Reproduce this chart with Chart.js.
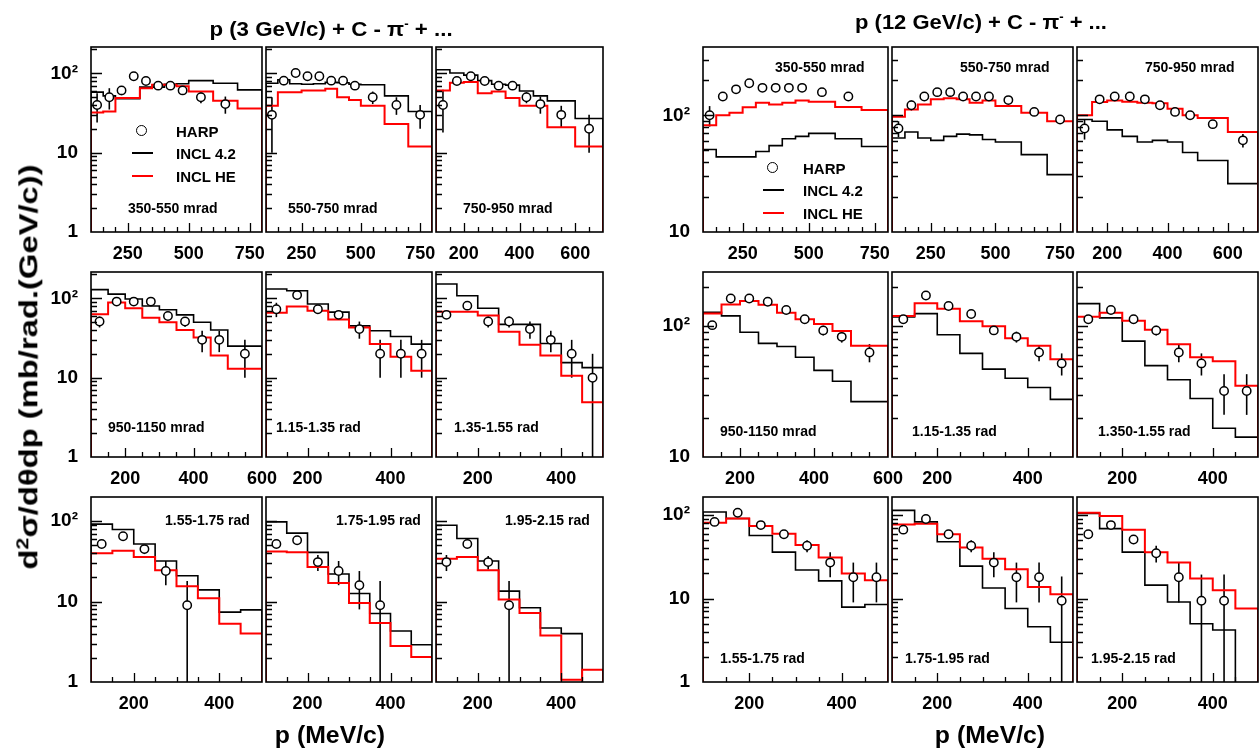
<!DOCTYPE html>
<html>
<head>
<meta charset="utf-8">
<script src="https://cdn.jsdelivr.net/npm/chart.js@4.4.1/dist/chart.umd.min.js"></script>
<style>
  body { margin: 0; background: #fff; }
  #wrap { position: relative; width: 1260px; height: 751px; overflow: hidden; font-family: "Liberation Sans", Arial, sans-serif; }
  canvas { position: absolute; }
  .t { position: absolute; white-space: nowrap; color: #000; font-weight: bold; line-height: 1; }
</style>
</head>
<body>
<div id="wrap"></div>
<script>
// ---- data ----
// bin edges (MeV/c) and HARP bin centres
const binEdges = [100, 150, 200, 250, 300, 350, 400, 450, 500, 600, 700, 800];
const pCentres = [125, 175, 225, 275, 325, 375, 425, 475, 550, 650, 750];

// x tick labels by upper end of range
const xLabels = { 800: [250, 500, 750], 700: [200, 400, 600], 600: [200, 400, 600], 500: [200, 400] };

// p (3 GeV/c) + C
const harp3_1 = [40, 50, 61, 92, 80, 70, 70, 61, 50, 41];
const err3_1 = [16, 15, 8, 5, 5, 4, 4, 5, 8, 10];
const incl3_1 = [58, 52, 48, 48, 67, 67, 73, 74, 81, 75, 62];
const he3_1 = [32, 33, 49, 49, 65, 72, 72, 69, 59, 45, 36];

const harp3_2 = [30, 81, 101, 92, 92, 81, 81, 70, 50, 40, 30];
const err3_2 = [20, 10, 5, 5, 5, 5, 5, 5, 9, 10, 10];
const incl3_2 = [75, 83, 74, 73, 74, 77, 76, 73, 72, 52, 33];
const he3_2 = [39, 58, 58, 61, 61, 64, 50, 46, 39, 23, 12];

const harp3_3 = [40, 80, 92, 80, 70, 70, 50, 41, 30, 20];
const err3_3 = [22, 6, 5, 5, 5, 5, 8, 10, 9, 10];
const incl3_3 = [111, 101, 95, 81, 73, 71, 60, 52, 45, 27];
const he3_3 = [61, 76, 78, 56, 59, 49, 39, 39, 21, 12];

const harp3_4 = [51, 91, 91, 91, 60, 51, 30, 30, 20];
const err3_4 = [8, 5, 5, 4, 5, 7, 9, 9, 10];
const incl3_4 = [129, 113, 98, 80, 72, 62, 50, 40, 25];
const he3_4 = [63, 89, 75, 57, 50, 40, 32, 19, 13];

const harp3_5 = [73, 110, 73, 62, 41, 20, 20, 20];
const err3_5 = [15, 5, 6, 5, 10, 10, 10, 10];
const incl3_5 = [131, 125, 85, 67, 45, 39, 33, 26.5];
const he3_5 = [66, 79, 70, 54, 43, 26.5, 18.4, 12.2];

const harp3_6 = [62, 81, 51, 51, 41, 30, 20, 10];
const err3_6 = [6, 6, 8, 8, 10, 9, 10, 10];
const incl3_6 = [152, 108, 75, 47, 47, 27, 15.5, 13.4];
const he3_6 = [68, 68, 61, 38, 26, 19, 10.6, 4.9];

const harp3_7 = [52, 65, 45, 24, 9];
const err3_7 = [5, 5, 6, 8, 9];
const incl3_7 = [92, 79, 52, 32, 21, 14, 7.4, 7.9];
const he3_7 = [40, 43, 36, 24.5, 15.5, 11, 5.3, 4];

const harp3_8 = [52, 58, 31, 24, 16, 9];
const err3_8 = [5, 5, 7, 8, 8, 9];
const incl3_8 = [98, 71, 41, 22, 12.6, 7.1, 4.3, 2.9];
const he3_8 = [42, 41, 27, 17, 9.6, 5.4, 2.8, 2.05];

const harp3_9 = [31, 52, 31, 9];
const err3_9 = [7, 5, 6, 9];
const incl3_9 = [89, 61, 32, 13.5, 8.4, 4.7, 4, 0.5];
const he3_9 = [34, 36, 24.5, 10.6, 7.2, 3.8, 1.07, 1.42];

// p (12 GeV/c) + C
const harp12_1 = [100, 145, 167, 188, 172, 172, 172, 172, 158, 145];
const err12_1 = [20, 10, 6, 6, 6, 6, 6, 6, 6, 10];
const incl12_1 = [51, 44, 44, 44, 49, 55, 63, 66, 70, 63, 54];
const he12_1 = [82, 100, 105, 117, 128, 124, 128, 134, 131, 118, 111];

const harp12_2 = [77, 122, 145, 158, 158, 145, 145, 145, 135, 107, 92];
const err12_2 = [12, 12, 7, 7, 7, 7, 7, 7, 7, 7, 7];
const incl12_2 = [64, 72, 64, 61, 66, 69, 68, 62, 59, 46, 31];
const he12_2 = [97, 112, 124, 137, 140, 137, 128, 134, 120, 105, 89];

const harp12_3 = [77, 137, 145, 145, 137, 122, 107, 100, 84, 61];
const err12_3 = [15, 10, 6, 6, 6, 6, 6, 6, 7, 8];
const incl12_3 = [92, 89, 75, 66, 59, 61, 59, 48, 41, 26];
const he12_3 = [100, 130, 134, 131, 128, 127, 114, 100, 95, 72];

const harp12_4 = [102, 163, 163, 154, 133, 113, 93, 83, 63];
const err12_4 = [6, 6, 6, 6, 6, 7, 8, 8, 10];
const incl12_4 = [128, 120, 90, 74, 70, 58, 46, 38, 26.5];
const he12_4 = [125, 147, 156, 146, 127, 113, 104, 92, 71];

const harp12_5 = [113, 172, 143, 124, 93, 83, 63, 52];
const err12_5 = [6, 6, 6, 6, 7, 8, 9, 10];
const incl12_5 = [118, 125, 86, 62, 47, 40, 34, 27.6];
const he12_5 = [120, 150, 136, 109, 100, 81, 71, 56];

const harp12_6 = [113, 133, 113, 93, 63, 52, 32, 32];
const err12_6 = [6, 6, 7, 8, 10, 10, 11, 11];
const incl12_6 = [149, 116, 77, 50, 39, 28, 16.6, 14.2];
const he12_6 = [118, 127, 110, 94, 73, 58, 54, 35];

const harp12_7 = [83, 107, 76, 59, 43, 27, 18, 18];
const err12_7 = [5, 5, 6, 6, 7, 9, 9, 9];
const incl12_7 = [109, 91, 57, 36, 22, 16.3, 7.9, 8.5];
const he12_7 = [81, 91, 74, 60, 44, 31, 20, 16.6];

const harp12_8 = [67, 90, 59, 43, 27, 18, 18, 9.4];
const err12_8 = [5, 5, 5, 7, 9, 9, 9, 9];
const incl12_8 = [114, 83, 48, 24.5, 13.4, 7.6, 4.6, 3.0];
const he12_8 = [77, 79, 59, 41, 30, 22.5, 13.8, 11.3];

const harp12_9 = [59, 76, 51, 35, 18, 9.4, 9.4];
const err12_9 = [5, 5, 6, 8, 9, 10, 10];
const incl12_9 = [105, 69, 36, 14.5, 9.1, 5, 4.2, 0.5];
const he12_9 = [107, 98, 67, 36, 27, 17.4, 12.6, 7.6];

const angles3 = ['350-550 mrad', '550-750 mrad', '750-950 mrad', '950-1150 mrad', '1.15-1.35 rad', '1.35-1.55 rad', '1.55-1.75 rad', '1.75-1.95 rad', '1.95-2.15 rad'];
const angles12 = ['350-550 mrad', '550-750 mrad', '750-950 mrad', '950-1150 mrad', '1.15-1.35 rad', '1.350-1.55 rad', '1.55-1.75 rad', '1.75-1.95 rad', '1.95-2.15 rad'];

// ---- layout ----
const family = '"Liberation Sans", Arial, sans-serif';
const wrap = document.getElementById('wrap');
const colX3 = [91, 262, 432, 603];
const colX12 = [703, 888, 1073, 1258];
const rowY = [[47, 232], [272, 457], [497, 682]];
const yRange3 = [[1, 215], [1, 215], [1, 200]];
const yRange12 = [[10, 385], [10, 260], [1, 165]];
const labelPos3 = [[128, 208], [288, 208], [463, 208], [108, 427], [276, 427], [454, 427], [165, 520], [336, 520], [505, 520]];
const labelPos12 = [[775, 67], [960, 67], [1145, 67], [720, 431], [912, 431], [1098, 431], [720, 658], [905, 658], [1091, 658]];

const panels3 = [
  [harp3_1, err3_1, incl3_1, he3_1], [harp3_2, err3_2, incl3_2, he3_2], [harp3_3, err3_3, incl3_3, he3_3],
  [harp3_4, err3_4, incl3_4, he3_4], [harp3_5, err3_5, incl3_5, he3_5], [harp3_6, err3_6, incl3_6, he3_6],
  [harp3_7, err3_7, incl3_7, he3_7], [harp3_8, err3_8, incl3_8, he3_8], [harp3_9, err3_9, incl3_9, he3_9]
];
const panels12 = [
  [harp12_1, err12_1, incl12_1, he12_1], [harp12_2, err12_2, incl12_2, he12_2], [harp12_3, err12_3, incl12_3, he12_3],
  [harp12_4, err12_4, incl12_4, he12_4], [harp12_5, err12_5, incl12_5, he12_5], [harp12_6, err12_6, incl12_6, he12_6],
  [harp12_7, err12_7, incl12_7, he12_7], [harp12_8, err12_8, incl12_8, he12_8], [harp12_9, err12_9, incl12_9, he12_9]
];

// error bars of the HARP points, drawn under the markers
const errorBars = {
  id: 'errorBars',
  beforeDatasetsDraw(chart) {
    const { ctx, chartArea: a, scales: { x, y } } = chart;
    chart.data.datasets.forEach(ds => {
      if (!ds.errs) return;
      ctx.save();
      ctx.beginPath();
      ctx.rect(a.left, a.top, a.width, a.height);
      ctx.clip();
      ctx.strokeStyle = '#000';
      ctx.lineWidth = 1.6;
      ds.data.forEach((p, i) => {
        const px = x.getPixelForValue(p.x);
        const lo = p.y - ds.errs[i];
        const yTop = y.getPixelForValue(p.y + ds.errs[i]);
        const yBot = lo > 0 ? Math.min(y.getPixelForValue(lo), a.bottom) : a.bottom;
        ctx.beginPath();
        ctx.moveTo(px, yBot);
        ctx.lineTo(px, yTop);
        ctx.stroke();
      });
      ctx.restore();
    });
  }
};

// ROOT style frame with inward ticks
const rootAxes = {
  id: 'rootAxes',
  afterDatasetsDraw(chart, args, o) {
    const { ctx, chartArea: a, scales: { x, y } } = chart;
    ctx.save();
    ctx.strokeStyle = '#000';
    ctx.lineWidth = 1.3;
    ctx.beginPath();
    for (let v = x.min + 50; v < x.max; v += 50) {
      const px = Math.round(x.getPixelForValue(v)) + 0.5;
      const len = o.major.includes(v) ? 9 : 5;
      ctx.moveTo(px, a.bottom);
      ctx.lineTo(px, a.bottom - len);
    }
    for (let d = 1; d <= 1000; d *= 10) {
      for (let m = 1; m < 10; m++) {
        const v = m * d;
        if (v <= y.min || v >= y.max) continue;
        const py = Math.round(y.getPixelForValue(v)) + 0.5;
        ctx.moveTo(a.left, py);
        ctx.lineTo(a.left + (m === 1 ? 11 : 6), py);
      }
    }
    ctx.stroke();
    ctx.lineWidth = 1.6;
    ctx.strokeRect(a.left, a.top, a.width, a.height);
    ctx.restore();
  }
};

function histo(vals, edges, low) {
  const pts = [{ x: edges[0], y: low }];
  vals.forEach((v, i) => pts.push({ x: edges[i], y: v }));
  pts.push({ x: edges[vals.length], y: vals[vals.length - 1] });
  pts.push({ x: edges[vals.length], y: low });
  return pts;
}

function makePanel(x0, x1, y0, y1, first, ymin, ymax, set) {
  const [harp, errs, incl, he] = set;
  const nb = incl.length;
  const edges = binEdges.slice(0, nb + 1);
  const xmax = edges[nb];
  const labels = xLabels[xmax];
  const padL = first ? 80 : 4, padR = 26, padT = 30, padB = 40;

  const c = document.createElement('canvas');
  c.width = x1 - x0 + padL + padR;
  c.height = y1 - y0 + padT + padB;
  c.style.left = (x0 - padL) + 'px';
  c.style.top = (y0 - padT) + 'px';
  wrap.appendChild(c);

  const low = ymin * 0.5;
  new Chart(c, {
    type: 'line',
    data: {
      datasets: [
        {
          label: 'HARP',
          data: harp.map((v, i) => ({ x: pCentres[i], y: v })),
          errs: errs,
          showLine: false,
          pointRadius: 4.2,
          pointBorderWidth: 1.5,
          pointBorderColor: '#000',
          pointBackgroundColor: '#fff'
        },
        {
          label: 'INCL HE',
          data: histo(he, edges, low),
          stepped: 'before',
          borderColor: '#ff0000',
          borderWidth: 2,
          pointRadius: 0
        },
        {
          label: 'INCL 4.2',
          data: histo(incl, edges, low),
          stepped: 'before',
          borderColor: '#000',
          borderWidth: 1.6,
          pointRadius: 0
        }
      ]
    },
    options: {
      responsive: false,
      animation: false,
      devicePixelRatio: 1,
      layout: { padding: { left: first ? 0 : padL, right: padR, top: padT, bottom: 0 } },
      plugins: {
        legend: { display: false },
        tooltip: { enabled: false },
        rootAxes: { major: labels }
      },
      scales: {
        x: {
          type: 'linear', min: 100, max: xmax,
          grid: { display: false, drawTicks: false },
          border: { display: false },
          afterBuildTicks: s => { s.ticks = labels.map(v => ({ value: v })); },
          afterFit: s => { s.height = padB; },
          ticks: { font: { family: family, size: 18, weight: 'bold' }, color: '#000', padding: 11, maxRotation: 0, autoSkip: false }
        },
        y: {
          type: 'logarithmic', min: ymin, max: ymax, display: first,
          grid: { display: false, drawTicks: false },
          border: { display: false },
          afterBuildTicks: s => { s.ticks = [1, 10, 100].filter(v => v >= ymin && v <= ymax).map(v => ({ value: v })); },
          afterFit: s => { s.width = padL; },
          ticks: {
            callback: v => v === 100 ? '10²' : String(v),
            font: { family: family, size: 19, weight: 'bold' }, color: '#000', padding: 13, autoSkip: false
          }
        }
      }
    },
    plugins: [errorBars, rootAxes]
  });
}

for (let r = 0; r < 3; r++) {
  for (let c = 0; c < 3; c++) {
    const i = r * 3 + c;
    makePanel(colX3[c], colX3[c + 1], rowY[r][0], rowY[r][1], c === 0, yRange3[r][0], yRange3[r][1], panels3[i]);
    makePanel(colX12[c], colX12[c + 1], rowY[r][0], rowY[r][1], c === 0, yRange12[r][0], yRange12[r][1], panels12[i]);
  }
}

// ---- texts ----
function text(html, x, y, size, opts) {
  const el = document.createElement('div');
  el.className = 't';
  el.innerHTML = html;
  el.style.fontSize = size + 'px';
  el.style.left = x + 'px';
  el.style.top = y + 'px';
  wrap.appendChild(el);
  let tf = opts && opts.center ? 'translate(-50%,-50%)' : 'translateY(-50%)';
  if (opts && opts.rotate) tf += ' rotate(-90deg)';
  if (opts && opts.width) tf += ' scaleX(' + (opts.width / el.offsetWidth) + ')';
  el.style.transform = tf;
  return el;
}

angles3.forEach((s, i) => text(s, labelPos3[i][0], labelPos3[i][1], 14));
angles12.forEach((s, i) => text(s, labelPos12[i][0], labelPos12[i][1], 14));

text('p (3 GeV/c) + C - π<sup style="font-size:60%">-</sup> + ...', 331, 28, 21, { center: true, width: 243 });
text('p (12 GeV/c) + C - π<sup style="font-size:60%">-</sup> + ...', 981, 21, 21, { center: true, width: 252 });
text('p (MeV/c)', 330, 735, 23, { center: true, width: 110 });
text('p (MeV/c)', 990, 735, 23, { center: true, width: 110 });
text('d<sup style="font-size:65%">2</sup>σ/dθdp (mb/rad.(GeV/c))', 28, 367, 25, { center: true, rotate: true, width: 405 });

// legends
function legend(cx, tx, y1, y2, y3) {
  const m = document.createElement('div');
  m.style.cssText = 'position:absolute;width:9px;height:9px;border:1.6px solid #000;border-radius:50%;background:#fff;left:' + (cx - 6) + 'px;top:' + (y1 - 6) + 'px;';
  wrap.appendChild(m);
  const l1 = document.createElement('div');
  l1.style.cssText = 'position:absolute;height:2px;width:21px;background:#000;left:' + (cx - 10) + 'px;top:' + (y2 - 1) + 'px;';
  wrap.appendChild(l1);
  const l2 = document.createElement('div');
  l2.style.cssText = 'position:absolute;height:2px;width:21px;background:#ff0000;left:' + (cx - 10) + 'px;top:' + (y3 - 1) + 'px;';
  wrap.appendChild(l2);
  text('HARP', tx, y1, 15);
  text('INCL 4.2', tx, y2, 15);
  text('INCL HE', tx, y3, 15);
}
legend(142, 176, 131, 153, 176);
legend(773, 803, 168, 190, 213);
</script>
</body>
</html>
